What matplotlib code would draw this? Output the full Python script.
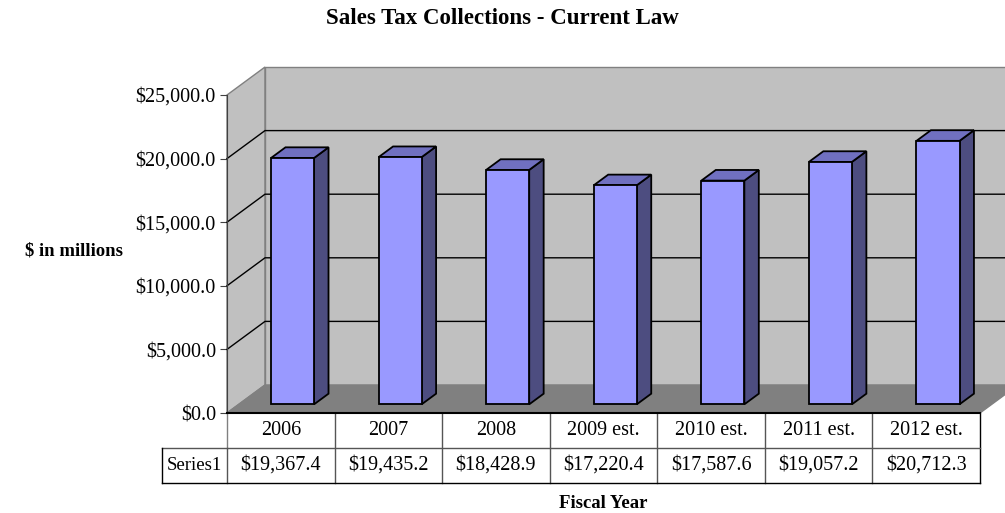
import matplotlib
matplotlib.use('Agg')
import matplotlib.pyplot as plt
from matplotlib.patches import Polygon

# data
years = ['2006', '2007', '2008', '2009 est.', '2010 est.', '2011 est.', '2012 est.']
sales_tax = [19367.4, 19435.2, 18428.9, 17220.4, 17587.6, 19057.2, 20712.3]
series_name = 'Series1'
y_ticks = [0, 5000, 10000, 15000, 20000, 25000]

plt.rcParams['font.family'] = ['Liberation Serif', 'DejaVu Serif']

W, H = 1005, 513
fig = plt.figure(figsize=(W / 100, H / 100), dpi=100)
fig.patch.set_facecolor('white')

# front plane of the 3D box
ax = fig.add_axes([227 / W, 1 - 413 / H, 753 / W, 318 / H])
n = len(years)
ymax = y_ticks[-1]
ax.set_xlim(0, n)
ax.set_ylim(0, ymax)
ax.patch.set_visible(False)

# depth offset of the back wall, in data units
DX = 38 / 753 * n
DY = 28 / 318 * ymax


def proj(x, y, z):
    return (x + z * DX, y + z * DY)


def face(pts, fc, ec, lw=1.0, z=1):
    ax.add_patch(Polygon([proj(*p) for p in pts], closed=True, facecolor=fc,
                         edgecolor=ec, lw=lw, clip_on=False, zorder=z))


wall = '#c0c0c0'
edge = '#808080'
# side wall, back wall, floor
face([(0, 0, 0), (0, 0, 1), (0, ymax, 1), (0, ymax, 0)], wall, edge)
face([(0, 0, 1), (n, 0, 1), (n, ymax, 1), (0, ymax, 1)], wall, edge)
face([(0, 0, 0), (n, 0, 0), (n, 0, 1), (0, 0, 1)], '#808080', edge)

# gridlines on side and back walls
for t in y_ticks[1:-1]:
    xs, ys = zip(proj(0, t, 0), proj(0, t, 1), proj(n, t, 1))
    ax.plot(xs, ys, color='black', lw=1.0, clip_on=False, zorder=2)

# 3D columns
gap = 0.3
z0, z1 = 0.31, 0.69
for i, v in enumerate(sales_tax):
    x0, x1 = i + gap, i + 1 - gap
    face([(x1, 0, z0), (x1, 0, z1), (x1, v, z1), (x1, v, z0)], '#4d4d80', 'black', 1.3, 3)
    face([(x0, v, z0), (x1, v, z0), (x1, v, z1), (x0, v, z1)], '#7070c0', 'black', 1.3, 3)
    face([(x0, 0, z0), (x1, 0, z0), (x1, v, z0), (x0, v, z0)], '#9999ff', 'black', 1.3, 3)

for s in ['top', 'right', 'bottom']:
    ax.spines[s].set_visible(False)
ax.spines['left'].set_color('#404040')
ax.spines['left'].set_zorder(4)
ax.set_xticks([])
ax.set_yticks(y_ticks)
ax.set_yticklabels([f'${t:,.1f}' for t in y_ticks])
ax.tick_params(axis='y', direction='out', length=5, color='#404040',
               labelsize=14.5, pad=3)

# data table under the chart
tax = fig.add_axes([227 / W, 1 - 483 / H, 753 / W, 70 / H])
tax.set_xlim(0, n)
tax.set_ylim(0, 2)
tax.axis('off')
left = -65 / 753 * n
for i, (yr, v) in enumerate(zip(years, sales_tax)):
    tax.text(i + 0.5, 1.5, yr, ha='center', va='center', fontsize=14.5)
    tax.text(i + 0.5, 0.5, f'${v:,.1f}', ha='center', va='center', fontsize=14.5)
tax.text(left / 2, 0.5, series_name, ha='center', va='center', fontsize=13.5)
for i in range(1, n):
    tax.plot([i, i], [0, 2], color='#555555', lw=1.0, clip_on=False)
tax.plot([0, 0], [1, 2], color='#808080', lw=1.0, clip_on=False)
tax.plot([0, 0], [0, 1], color='#555555', lw=1.0, clip_on=False)
tax.plot([n, n], [0, 2], color='black', lw=1.0, clip_on=False)
tax.plot([0, n], [2, 2], color='black', lw=1.5, clip_on=False)
tax.plot([left, n], [1, 1], color='#555555', lw=1.0, clip_on=False)
tax.plot([left, n], [0, 0], color='black', lw=1.0, clip_on=False)
tax.plot([left, left], [0, 1], color='black', lw=1.0, clip_on=False)

fig.text(0.5, 1 - 18 / H, 'Sales Tax Collections - Current Law', ha='center',
         va='center', fontsize=16.5, fontweight='bold')
fig.text(74 / W, 1 - 251 / H, '$ in millions', ha='center', va='center',
         fontsize=13.5, fontweight='bold')
fig.text(603 / W, 1 - 503 / H, 'Fiscal Year', ha='center', va='center',
         fontsize=13.5, fontweight='bold')

fig.savefig('out.png', dpi=100)
